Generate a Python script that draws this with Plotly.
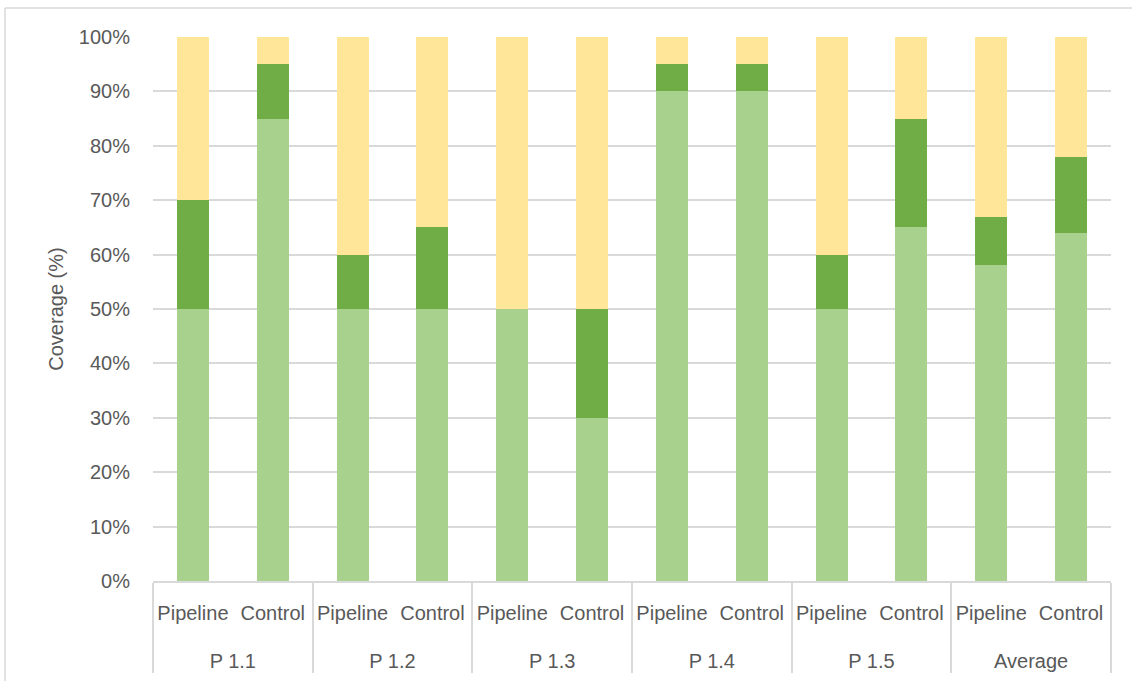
import plotly.graph_objects as go

groups = ["P 1.1", "P 1.1", "P 1.2", "P 1.2", "P 1.3", "P 1.3",
          "P 1.4", "P 1.4", "P 1.5", "P 1.5", "Average", "Average"]
subs = ["Pipeline", "Control"] * 6
covered = [50, 85, 50, 50, 50, 30, 90, 90, 50, 65, 58, 64]
partial = [20, 10, 10, 15, 0, 20, 5, 5, 10, 20, 9, 14]
missing = [30, 5, 40, 35, 50, 50, 5, 5, 40, 15, 33, 22]
y_ticks = list(range(0, 101, 10))

colors = ["#A9D18E", "#70AD47", "#FFE699"]
names = ["Covered", "Partially covered", "Not covered"]

span = "<span style='font-size:20px'>{}</span>"
sub_labels = [span.format(s) + "<br> " for s in subs]
group_labels = [span.format(g) for g in groups]

fig = go.Figure()
for vals, col, nm in zip([covered, partial, missing], colors, names):
    fig.add_trace(go.Bar(x=[group_labels, sub_labels], y=vals, name=nm,
                         marker=dict(color=col, line=dict(width=0))))

W, H = 1132, 681
L, R, T, B = 153, 21, 37, 100
pw, ph = W - L - R, H - T - B

def px(x):
    return (x - L) / pw

def py(y):
    return (H - B - y) / ph

font = dict(family="Liberation Sans, Arial, sans-serif", size=20, color="#595959")
xfont = dict(family="Liberation Sans, Arial, sans-serif", size=24, color="#595959")

fig.update_layout(
    width=W, height=H,
    margin=dict(l=L, r=R, t=T, b=B, pad=0),
    barmode="stack", bargap=0.6,
    plot_bgcolor="white", paper_bgcolor="white",
    showlegend=False,
    font=font,
    xaxis=dict(type="multicategory", showgrid=False, ticks="", tickangle=0,
               showline=True, linecolor="#d9d9d9", linewidth=1.5,
               showdividers=True, dividercolor="#d9d9d9", dividerwidth=1.5,
               ticklabelstandoff=8, tickfont=xfont, automargin=False),
    yaxis=dict(range=[0, 100], tickvals=y_ticks,
               ticktext=[f"{v}%" for v in y_ticks],
               showgrid=True, gridcolor="#d9d9d9", gridwidth=1.5,
               zeroline=False, showline=False, ticks="",
               ticklabelstandoff=22, tickfont=font, automargin=False,
               title=dict(text="Coverage (%)", font=font, standoff=9)),
    shapes=[
        dict(type="line", xref="paper", yref="paper",
             x0=px(5), x1=px(W + 20), y0=py(8), y1=py(8),
             line=dict(color="#d9d9d9", width=1.5)),
        dict(type="line", xref="paper", yref="paper",
             x0=px(5), x1=px(5), y0=py(8), y1=py(H + 20),
             line=dict(color="#d9d9d9", width=1.5)),
    ],
)

fig.write_html("out.html")
